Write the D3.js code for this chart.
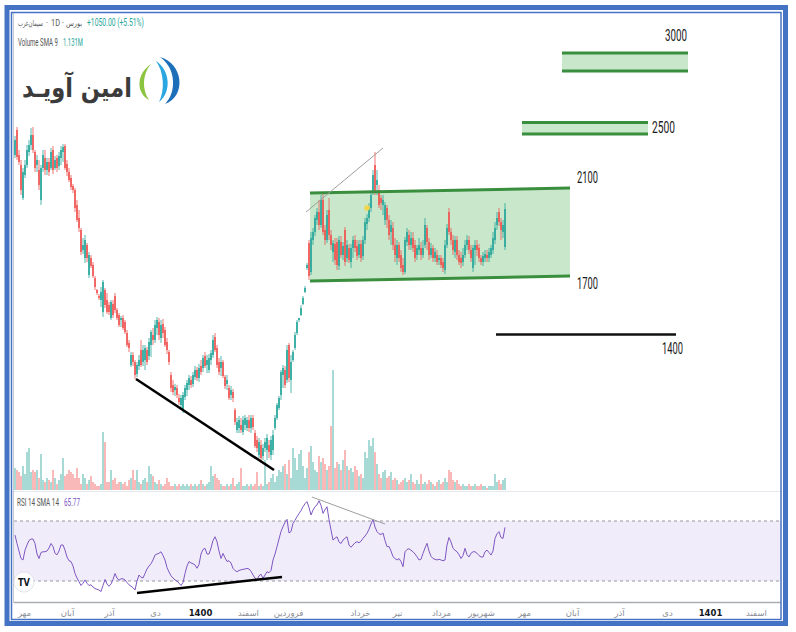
<!DOCTYPE html>
<html><head><meta charset="utf-8">
<script src="https://cdn.jsdelivr.net/npm/d3@7"></script>
<style>html,body{margin:0;padding:0;background:#fff;}svg{display:block;}</style>
</head><body>
<svg id="chart" width="796" height="632"></svg>
<script>
// ---------- DATA ----------
const openP = [2275,2400,2275,2225,2060,2175,2225,2290,2325,2375,
2290,2225,2200,2050,2210,2260,2200,2240,2210,2300,
2210,2260,2220,2260,2290,2320,2230,2190,2160,2120,
2100,2025,1960,1900,1800,1760,1825,1675,1760,1725,
1660,1600,1570,1550,1490,1600,1550,1525,1460,1530,
1570,1500,1475,1450,1460,1440,1385,1335,1225,1275,
1240,1180,1220,1300,1240,1250,1300,1270,1325,1375,
1350,1410,1440,1360,1430,1400,1340,1290,1175,1125,
1100,1110,1060,1025,1000,1065,1100,1125,1150,1130,
1165,1200,1160,1220,1210,1270,1225,1200,1250,1275,
1365,1310,1240,1210,1240,1165,1130,1110,1075,1090,
1000,900,910,925,890,925,910,950,910,960,
885,850,775,825,770,810,800,825,775,800,
910,960,1010,1075,1175,1200,1150,1325,1150,1250,
1310,1385,1450,1475,1530,1590,1710,1835,1690,1850,
1890,1950,1990,1925,2050,1900,1850,2000,1875,1790,
1830,1840,1720,1840,1775,1900,1760,1810,1740,1810,
1850,1820,1775,1830,1770,1850,1930,1960,2010,2090,
2225,2125,2100,2060,2025,1950,2010,1950,1890,1910,
1825,1760,1825,1775,1725,1690,1840,1875,1825,1860,
1825,1775,1800,1810,1775,1825,1910,1840,1775,1810,
1760,1775,1750,1760,1740,1700,1825,1990,1890,1850,
1790,1850,1775,1760,1740,1775,1825,1850,1800,1710,
1800,1825,1810,1760,1740,1760,1775,1760,1775,1800,
1850,1925,1990,1940,1890,1815];
const highP = [2370,2415,2300,2250,2210,2250,2325,2350,2410,2415,
2300,2275,2250,2225,2300,2300,2260,2260,2310,2320,
2270,2275,2290,2320,2330,2330,2250,2210,2175,2130,
2110,2050,2000,1910,1860,1875,1835,1790,1775,1740,
1670,1605,1580,1615,1650,1610,1585,1540,1550,1550,
1585,1510,1485,1470,1475,1450,1400,1350,1290,1290,
1250,1240,1275,1350,1325,1325,1315,1360,1400,1410,
1450,1465,1460,1450,1455,1415,1360,1300,1190,1150,
1130,1125,1080,1075,1090,1125,1150,1175,1170,1190,
1220,1215,1230,1250,1275,1290,1275,1280,1300,1375,
1385,1325,1260,1270,1250,1175,1175,1125,1120,1105,
1010,960,970,960,970,975,965,975,975,975,
900,870,860,850,830,860,880,850,870,900,
975,1035,1070,1200,1225,1220,1325,1335,1275,1300,
1390,1450,1460,1525,1570,1620,1735,1850,1890,1910,
1975,2010,2050,2075,2085,1925,2000,2060,1900,1850,
1860,1860,1870,1870,1840,1915,1850,1830,1830,1870,
1875,1850,1850,1850,1870,1960,1980,2035,2100,2200,
2290,2200,2125,2075,2075,2040,2025,1975,1950,1940,
1860,1850,1840,1800,1760,1865,1910,1900,1890,1890,
1850,1825,1860,1840,1850,1960,1925,1860,1835,1825,
1810,1800,1775,1775,1760,1850,1930,2010,1910,1875,
1870,1870,1800,1790,1810,1850,1875,1870,1825,1825,
1850,1850,1830,1775,1790,1800,1800,1810,1825,1890,
1940,1990,2010,1960,1950,2035];
const lowP = [2260,2250,2225,2075,2050,2160,2210,2270,2300,2285,
2190,2190,2100,2025,2190,2175,2175,2170,2200,2180,
2200,2190,2200,2225,2240,2200,2170,2140,2100,2085,
1990,1940,1890,1775,1780,1735,1740,1660,1710,1660,
1600,1575,1550,1515,1465,1510,1480,1475,1450,1460,
1485,1450,1415,1415,1400,1380,1315,1290,1215,1220,
1155,1165,1200,1215,1220,1200,1225,1250,1265,1325,
1335,1375,1350,1335,1360,1315,1280,1225,1090,1075,
1070,1060,1025,1000,985,1050,1070,1100,1110,1115,
1150,1145,1140,1175,1190,1210,1185,1185,1225,1260,
1290,1210,1175,1170,1160,1105,1100,1050,1050,1040,
925,885,885,885,875,900,895,890,885,900,
810,790,760,735,750,790,750,760,750,775,
900,950,1000,1050,1110,1110,1135,1140,1085,1240,
1300,1375,1440,1470,1525,1585,1700,1650,1675,1825,
1870,1925,1900,1910,1875,1825,1835,1850,1800,1740,
1725,1700,1700,1760,1750,1720,1740,1735,1710,1760,
1790,1750,1760,1740,1750,1830,1900,1940,1990,2075,
2075,2075,2010,2000,1975,1925,1910,1850,1825,1800,
1740,1725,1740,1690,1675,1680,1820,1800,1800,1790,
1740,1750,1775,1750,1760,1810,1800,1750,1760,1740,
1740,1725,1725,1710,1690,1680,1810,1875,1825,1775,
1760,1750,1725,1710,1720,1760,1800,1780,1740,1690,
1725,1770,1740,1725,1720,1740,1740,1740,1760,1780,
1830,1900,1920,1850,1860,1800];
const closeP = [2350,2265,2240,2100,2190,2225,2300,2325,2375,2300,
2210,2250,2125,2210,2275,2200,2240,2190,2290,2200,
2250,2210,2270,2300,2315,2210,2190,2150,2115,2100,
2010,1950,1910,1790,1825,1850,1760,1775,1720,1670,
1615,1585,1560,1590,1640,1525,1490,1490,1540,1475,
1500,1460,1425,1460,1410,1390,1325,1310,1275,1240,
1175,1225,1250,1225,1300,1310,1240,1340,1390,1350,
1425,1450,1375,1425,1385,1325,1300,1240,1110,1090,
1115,1075,1040,1060,1075,1110,1135,1160,1125,1175,
1200,1160,1210,1190,1260,1220,1250,1260,1285,1350,
1300,1225,1190,1240,1170,1120,1150,1060,1100,1060,
940,940,950,900,950,960,950,910,960,915,
820,810,840,760,810,840,860,790,850,875,
960,1025,1060,1190,1210,1125,1300,1160,1240,1290,
1375,1440,1460,1510,1560,1610,1725,1670,1860,1890,
1960,1990,1925,2050,1890,1850,1975,1875,1825,1835,
1750,1725,1850,1775,1820,1740,1825,1750,1810,1850,
1810,1770,1830,1760,1850,1940,1960,2010,2075,2175,
2090,2150,2025,2035,2050,2025,1950,1875,1925,1825,
1775,1825,1760,1710,1690,1850,1890,1825,1860,1810,
1760,1810,1825,1775,1810,1925,1840,1775,1810,1760,
1790,1740,1760,1725,1710,1825,1910,1890,1850,1800,
1850,1775,1740,1735,1775,1825,1850,1800,1760,1810,
1825,1800,1760,1740,1770,1780,1760,1790,1810,1860,
1910,1960,1940,1900,1925,2005];
const volumeM = [1.1,1.0,0.9,0.7,1.2,0.8,1.9,2.1,0.9,1.0,
0.9,1.0,0.6,1.8,0.5,0.4,0.6,0.5,0.4,1.0,
0.6,0.3,0.5,0.8,1.6,0.7,0.8,1.0,0.9,0.8,
0.6,1.1,0.6,0.3,0.8,0.6,0.3,0.5,0.7,0.4,
0.3,0.2,0.2,0.3,2.9,2.4,0.4,0.4,1.0,0.5,
0.6,0.3,0.4,0.4,0.3,0.4,0.2,0.5,0.6,1.0,
0.5,1.0,0.4,0.3,0.5,0.6,0.4,1.2,0.8,0.7,
0.4,0.3,0.5,0.3,0.2,0.3,0.6,0.4,0.2,0.2,
0.3,0.2,0.3,0.2,0.3,0.2,0.3,0.2,0.3,0.2,
0.3,0.2,0.3,0.5,0.3,0.2,0.3,0.4,1.2,0.7,
0.8,0.6,0.5,0.3,0.2,0.2,0.3,0.2,0.3,0.6,
0.2,0.3,0.4,1.1,0.2,0.2,0.3,0.2,0.3,0.2,
0.3,0.9,0.2,0.3,0.2,1.5,0.3,0.4,0.6,0.8,
0.4,0.7,1.0,0.9,1.2,1.3,0.8,1.5,0.6,2.1,
1.6,1.0,1.8,2.0,1.2,0.6,1.1,1.9,2.2,1.4,
1.0,0.9,1.7,1.4,1.6,1.3,1.0,1.2,3.2,6.0,
1.1,1.4,1.3,1.0,1.5,2.0,1.2,1.0,1.1,0.9,
1.2,1.0,0.7,0.8,0.6,1.9,1.6,2.5,2.2,2.6,
1.9,1.3,0.8,0.6,0.9,1.0,0.6,0.7,0.9,0.5,
0.6,0.5,0.3,0.4,0.5,0.6,0.4,0.5,0.8,0.4,
0.3,0.5,0.3,0.8,0.3,0.4,0.3,0.5,0.4,0.3,
0.2,0.4,0.5,0.3,0.4,0.6,0.4,1.0,0.9,0.5,
0.4,0.5,0.3,0.2,0.3,0.2,0.2,0.3,0.2,0.2,
0.3,0.2,0.2,0.3,0.2,0.2,0.1,0.2,0.2,0.2,
0.8,0.4,0.5,0.3,0.5,0.6];
const rsiValues = [60.6,55,50,45,44,50.6,54,57,58,58,
55,48,45,49,49.5,49.5,50,52,55,53,
48.4,47.5,50,54,54,50.6,46,43.5,43,40,
35,32,29.5,27,28.5,30.7,28.5,27,27.5,26,
25,24.5,24,23,27,31,28,26.5,28,31,
35,32,30.5,31.5,31.5,30.7,29,27.5,26.5,25.5,
24,30,34,32.5,32,35,38,40,41.5,44,
47.3,48,48.5,49.5,47,44,39,36,33.5,32,
30.7,30,28.5,27,29,35,40,43,42,41.5,
40.7,38.5,41,48,51,51.8,48,48,52,57,
59.5,56.2,50,45,48.4,45.5,43,43.5,42,38.4,
37,36.2,37,37.5,37.8,38,38.4,38,36.5,34,
32,30.7,33.5,34.5,31.8,34,36.2,35.5,37,44,
48,52.9,58,63,66.2,69,71.1,62,63,68.4,
70.5,72.9,75,77,79.5,81.5,82.9,79,74,77.3,
79.5,80.7,83.5,80.5,75.1,77.5,79.5,71,64,57.3,
58.5,59.5,56,55,57.3,58.5,59.5,54,52.5,54,
55.5,56.2,55.5,56.5,58.4,60,61.8,64.5,68,71.1,
66,62.9,61.5,61,62,57,52.9,53,50,46.2,
45,44,45,43,39.5,49.5,51,51.5,50.5,49.5,
48,46.2,44,44.5,48.4,52,55.1,50,46.5,45,
44.5,44,44.5,44,43.5,44,54,59,56,51.8,
50.5,49.5,47.5,45,47,51.8,47.5,46,48.5,49.5,
49.5,48.5,47,46,46,49.5,50.6,49,47.3,50,
58.4,61.5,62.9,59,58.4,65.77];
const monthLabels = ["مهر","آبان","آذر","دی","1400","اسفند","فروردین","خرداد","تیر","مرداد","شهریور","مهر","آبان","آذر","دی","1401","اسفند"];
const monthPos = [4.5,26,47,70,92.5,116.5,136.5,172.5,191,213,233,254.5,278.5,302,326,347.5,370.5];
// drawings (bar index / price units)
const channel = {i0:147.5, i1:277.5, top0:2085, top1:2110, bot0:1645, bot1:1670};
const targetZones = [
  {i0:253.5, i1:316.5, lo:2380, hi:2437.5},
  {i0:273.5, i1:336.5, lo:2695, hi:2785}
];
const supportLine = {i0:240.5, i1:330.5, p:1377.5};
const levelLabels = [
  {text:"3000", i:325, p:2845, w:22},
  {text:"2500", i:318.5, p:2385, w:23},
  {text:"2100", i:281, p:2135, w:21},
  {text:"1700", i:281, p:1605, w:21},
  {text:"1400", i:323.5, p:1280, w:21}
];
const priceBlackLine = [{i:60.5, p:1155}, {i:129.5, p:700}];
const priceGreyLine = [{i:145.5, p:1990}, {i:184, p:2310}];
const rsiBlackLine = [{i:61, v:22}, {i:133.5, v:32.7}];
const rsiGreyLine = [{i:148.5, v:86}, {i:185, v:68}];
const yellowDot = {i:176, p:2010};

// ---------- SCALES ----------
const svg = d3.select("#chart");
const x = d3.scaleLinear().domain([0,245]).range([15,505]);
const y = d3.scaleLinear().domain([595,2980]).range([491,14]);
const vy = d3.scaleLinear().domain([0,6]).range([490,370]);
const ry = d3.scaleLinear().domain([16,90]).range([602,491]);
const UP = "#26a69a", DN = "#ef5350";
const data = closeP.map((c,i)=>({i, o:openP[i], h:highP[i], l:lowP[i], c, v:volumeM[i], r:rsiValues[i]}));

// text squeezed horizontally to a target width (the reference text is condensed)
function fitText(parent, str, px, py, w, size, fam, fill, weight){
  const t = parent.append("text").attr("x",0).attr("y",0)
    .attr("font-family",fam).attr("font-size",size).attr("fill",fill)
    .attr("font-weight",weight||"normal").text(str);
  const n = t.node().getComputedTextLength() || w;
  t.attr("transform",`translate(${px},${py}) scale(${(w/n).toFixed(4)},1)`);
  return t;
}

svg.append("rect").attr("width",796).attr("height",632).attr("fill","#fff");

svg.append("clipPath").attr("id","mainClip").append("rect").attr("x",14).attr("y",14).attr("width",767).attr("height",477);
const main = svg.append("g").attr("clip-path","url(#mainClip)");

// volume
main.append("g").selectAll("rect").data(data).join("rect")
  .attr("x", d=>x(d.i)-0.8).attr("width",1.6)
  .attr("y", d=>vy(d.v)).attr("height", d=>vy(0)-vy(d.v))
  .attr("fill", d=> d.c>=d.o ? "rgba(38,166,154,0.5)" : "rgba(239,83,80,0.5)");

// channel fill
const chPoly = [[channel.i0,channel.top0],[channel.i1,channel.top1],[channel.i1,channel.bot1],[channel.i0,channel.bot0]];
main.append("path").attr("d", d3.line().x(d=>x(d[0])).y(d=>y(d[1]))(chPoly)+"Z")
  .attr("fill","rgba(76,175,80,0.30)");

// target zones fill
main.append("g").selectAll("rect").data(targetZones).join("rect")
  .attr("x", d=>x(d.i0)).attr("width", d=>x(d.i1)-x(d.i0))
  .attr("y", d=>y(d.hi)).attr("height", d=>y(d.lo)-y(d.hi))
  .attr("fill","rgba(76,175,80,0.30)");

// candles
const cg = main.append("g");
cg.selectAll("line").data(data).join("line")
  .attr("x1", d=>x(d.i)).attr("x2", d=>x(d.i))
  .attr("y1", d=>y(Math.max(d.h,d.o,d.c))).attr("y2", d=>y(Math.min(d.l,d.o,d.c)))
  .attr("stroke", d=> d.c>=d.o ? UP : DN).attr("stroke-width",0.8);
cg.selectAll("rect").data(data).join("rect")
  .attr("x", d=>x(d.i)-0.8).attr("width",1.6)
  .attr("y", d=>y(Math.max(d.o,d.c)))
  .attr("height", d=>Math.max(1, Math.abs(y(d.o)-y(d.c))))
  .attr("fill", d=> d.c>=d.o ? UP : DN);

// channel borders
const green = "#3a8f3e";
main.append("line").attr("x1",x(channel.i0)).attr("x2",x(channel.i1)).attr("y1",y(channel.top0)).attr("y2",y(channel.top1))
  .attr("stroke",green).attr("stroke-width",3);
main.append("line").attr("x1",x(channel.i0)).attr("x2",x(channel.i1)).attr("y1",y(channel.bot0)).attr("y2",y(channel.bot1))
  .attr("stroke",green).attr("stroke-width",3);
targetZones.forEach(z=>{
  [z.hi,z.lo].forEach(p=>{
    main.append("line").attr("x1",x(z.i0)).attr("x2",x(z.i1)).attr("y1",y(p)).attr("y2",y(p))
      .attr("stroke",green).attr("stroke-width",3);
  });
});
main.append("line").attr("x1",x(supportLine.i0)).attr("x2",x(supportLine.i1)).attr("y1",y(supportLine.p)).attr("y2",y(supportLine.p))
  .attr("stroke","#111").attr("stroke-width",2.5);

const pl = d3.line().x(d=>x(d.i)).y(d=>y(d.p));
main.append("path").attr("d",pl(priceBlackLine)).attr("stroke","#000").attr("stroke-width",2.5).attr("fill","none");
main.append("path").attr("d",pl(priceGreyLine)).attr("stroke","#9e9e9e").attr("stroke-width",1).attr("fill","none");
main.append("circle").attr("cx",x(yellowDot.i)).attr("cy",y(yellowDot.p)).attr("r",2.8).attr("fill","#f2d54a");

// level labels
const narrow = "'Liberation Sans Narrow','Roboto',sans-serif";
const lg = svg.append("g");
levelLabels.forEach(d=> fitText(lg, d.text, x(d.i), y(d.p), d.w, 17, narrow, "#1a1a1a"));

// ---------- RSI PANE ----------
svg.append("rect").attr("x",14).attr("y",ry(70)).attr("width",767).attr("height",ry(30)-ry(70)).attr("fill","#f1ecf9");
[70,30].forEach(v=>{
  svg.append("line").attr("x1",14).attr("x2",781).attr("y1",ry(v)).attr("y2",ry(v))
    .attr("stroke","#9598a1").attr("stroke-width",1).attr("stroke-dasharray","3,3");
});
svg.append("path").datum(data)
  .attr("d", d3.line().x(d=>x(d.i)).y(d=>ry(d.r)))
  .attr("fill","none").attr("stroke","#7e57c2").attr("stroke-width",1);
const rl = d3.line().x(d=>x(d.i)).y(d=>ry(d.v));
svg.append("path").attr("d",rl(rsiBlackLine)).attr("stroke","#000").attr("stroke-width",2.5).attr("fill","none");
svg.append("path").attr("d",rl(rsiGreyLine)).attr("stroke","#9e9e9e").attr("stroke-width",1).attr("fill","none");

// pane separators
svg.append("line").attr("x1",14).attr("x2",781).attr("y1",491.5).attr("y2",491.5).attr("stroke","#e6e8ee");
svg.append("line").attr("x1",13.5).attr("x2",13.5).attr("y1",13).attr("y2",603).attr("stroke","#c9ccd3");

// TV logo
svg.append("circle").attr("cx",24).attr("cy",582).attr("r",10).attr("fill","#fff").attr("stroke","#e3e5ea");
fitText(svg, "TV", 18, 586, 12, 10, "'DejaVu Sans',sans-serif", "#131722", 900);

// ---------- TIME AXIS ----------
const axis = d3.axisBottom(x).tickValues(monthPos).tickFormat((d,i)=>monthLabels[i]).tickSize(0).tickPadding(8);
const ag = svg.append("g").attr("transform","translate(0,602)").call(axis);
ag.select(".domain").attr("d","M14,0.5H781").attr("stroke","#a9acb4").attr("stroke-width",1.3);
ag.selectAll("text").attr("font-family","'DejaVu Sans','Liberation Sans Narrow',sans-serif").attr("font-size",8.5)
  .attr("fill", d=>{const i=monthPos.indexOf(d); return (monthLabels[i]==="1400"||monthLabels[i]==="1401")?"#131722":"#8a8d96";})
  .attr("font-weight", d=>{const i=monthPos.indexOf(d); return (monthLabels[i]==="1400"||monthLabels[i]==="1401")?"bold":"normal";});

// ---------- HEADER TEXTS ----------
const dv = "'DejaVu Sans',sans-serif";
fitText(svg, "سیمان‌غرب", 18, 26, 25, 8, dv, "#555");
fitText(svg, "·", 46, 26, 2, 9, narrow, "#555");
fitText(svg, "1D", 51, 26, 9, 9, narrow, "#555");
fitText(svg, "·", 62, 26, 2, 9, narrow, "#555");
fitText(svg, "بورس", 66, 26, 16, 8, dv, "#555");
fitText(svg, "+1050.00 (+5.51%)", 87, 26, 57, 10.5, narrow, "#26a69a");
fitText(svg, "Volume SMA 9", 18, 46, 40, 10, narrow, "#555");
fitText(svg, "1.131M", 63, 46, 20, 10, narrow, "#26a69a");
fitText(svg, "RSI 14 SMA 14", 17, 506, 42, 10, narrow, "#555");
fitText(svg, "65.77", 64, 506, 16, 10, narrow, "#7e57c2");

// ---------- LOGO ----------
fitText(svg, "امین آویـد", 22, 97, 110, 27, dv, "#3b3b3b", "bold");
const logo = svg.append("g");
logo.append("path").attr("d","M160 57 C183 63 187 96 165 104 C177 92 176 68 160 57 Z").attr("fill","#1c6fb8");
logo.append("path").attr("d","M156 61 C170 70 172 92 159 102 C165 90 164 72 156 61 Z").attr("fill","#2aa6e0");
logo.append("path").attr("d","M151 64 C136 74 136 93 149 100 C142 90 142 74 151 64 Z").attr("fill","#8cc43f");

// ---------- FRAME ----------
svg.append("rect").attr("x",7).attr("y",7.5).attr("width",778.5).attr("height",616).attr("fill","none").attr("stroke","#4472c4").attr("stroke-width",5);
svg.append("rect").attr("x",11.5).attr("y",12.5).attr("width",769.5).attr("height",607).attr("fill","none").attr("stroke","#4472c4").attr("stroke-width",1.5);
</script>
</body></html>
